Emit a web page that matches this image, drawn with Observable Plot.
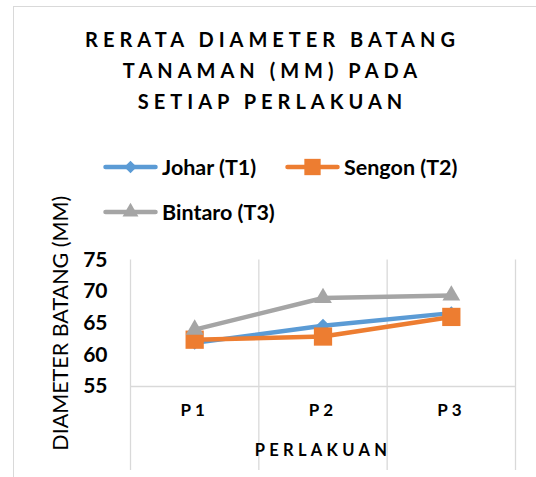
<!DOCTYPE html>
<html><head><meta charset="utf-8">
<script src="https://cdn.jsdelivr.net/npm/d3@7"></script>
<script src="https://cdn.jsdelivr.net/npm/@observablehq/plot@0.6"></script>
<style>
body{margin:0;background:#fff;}
#wrap{position:relative;width:536px;height:477px;overflow:hidden;font-family:Lato,sans-serif;color:#000;}
#frame{position:absolute;left:13px;top:6px;width:600px;height:600px;border:1px solid #d9d9d9;}
#title{position:absolute;left:11px;width:523px;top:24px;text-align:center;font-weight:700;font-size:20px;letter-spacing:5px;line-height:31px;}
.leg{position:absolute;display:flex;align-items:center;font-weight:700;font-size:21.5px;white-space:nowrap;}
.leg svg{margin-right:4px;}
#chart{position:absolute;left:0;top:0;}
</style></head>
<body>
<div id="wrap">
  <div id="frame"></div>
  <div id="title">RERATA DIAMETER BATANG<br>TANAMAN (MM) PADA<br>SETIAP PERLAKUAN</div>
  <div id="chart"></div>
</div>
<script>
const categories = ["P1", "P2", "P3"];
const seriesNames = ["Johar (T1)", "Sengon (T2)", "Bintaro (T3)"];
const johar = [61.9, 64.6, 66.6];
const sengon = [62.4, 62.9, 66.0];
const bintaro = [64.0, 69.0, 69.4];
const seriesColors = ["#5B9BD5", "#ED7D31", "#A5A5A5"];
const seriesSymbols = ["diamond2", "square", "triangle"];
const seriesR = [6.3, 10.3, 6.6];
const yTicks = [55, 60, 65, 70, 75];
const yTitle = "DIAMETER BATANG (MM)";
const xTitle = "PERLAKUAN";

const seriesValues = [johar, sengon, bintaro];
const rowsOf = (si) => seriesValues[si].map((v, i) => ({series: seriesNames[si], cat: categories[i], xi: i + 0.5, value: v}));

const seriesMarks = seriesNames.flatMap((name, si) => [
  Plot.line(rowsOf(si), {x: "xi", y: "value", stroke: seriesColors[si], strokeWidth: 4.5, strokeLinecap: "round", strokeLinejoin: "round"}),
  Plot.dot(rowsOf(si), {x: "xi", y: "value", symbol: seriesSymbols[si], r: seriesR[si], fill: seriesColors[si], stroke: "none"})
]);

const chart = Plot.plot({
  width: 536,
  height: 477,
  marginTop: 259.5,
  marginBottom: 91,
  marginLeft: 130,
  marginRight: 21,
  style: {background: "transparent", fontFamily: "Lato, sans-serif", overflow: "visible"},
  x: {domain: [0, categories.length], axis: null},
  y: {domain: [55, 75], axis: null},
  marks: [
    Plot.ruleX(d3.range(categories.length + 1), {x: d => d, stroke: "#d9d9d9", strokeWidth: 1.3, insetBottom: -84}),
    Plot.ruleY([55], {stroke: "#d9d9d9", strokeWidth: 1.3}),
    ...seriesMarks,
    Plot.text(yTicks, {y: d => d, text: d => String(d), frameAnchor: "left", dx: -23, textAnchor: "end", fontSize: 21, fontWeight: 700, fill: "#000"}),
    Plot.text(categories, {x: (d, i) => i + 0.5, text: d => d, frameAnchor: "bottom", dy: 29, fontSize: 17, fontWeight: 700, fill: "#000"}),
    Plot.text([xTitle], {text: d => d, frameAnchor: "bottom", dy: 69, fontSize: 16.5, fontWeight: 700, fill: "#000"}),
    Plot.text([yTitle], {text: d => d, frameAnchor: "left", textAnchor: "middle", dx: -69.5, rotate: -90, fontSize: 21.5, fontWeight: 400, fill: "#000"})
  ]
});
document.getElementById("chart").appendChild(chart);

// letter spacing of the category labels and x title (as in the reference)
d3.select(chart).selectAll("text")
  .filter(function () { return categories.includes(this.textContent); })
  .style("letter-spacing", "4px");
d3.select(chart).selectAll("text")
  .filter(function () { return this.textContent === xTitle; })
  .style("letter-spacing", "4.3px");

// legend
const legendPos = [[103, 167], [285, 167], [103, 212]];
const wrap = document.getElementById("wrap");
seriesNames.forEach((name, si) => {
  const item = document.createElement("div");
  item.className = "leg";
  item.style.left = legendPos[si][0] + "px";
  item.style.top = (legendPos[si][1] - 14) + "px";
  item.style.height = "28px";
  const sym = {diamond2: d3.symbolDiamond2, square: d3.symbolSquare, triangle: d3.symbolTriangle}[seriesSymbols[si]];
  const path = d3.symbol(sym, Math.PI * seriesR[si] * seriesR[si] * 0.8)();
  item.innerHTML = `<svg width="55" height="28"><line x1="2.5" x2="52.5" y1="14" y2="14" stroke="${seriesColors[si]}" stroke-width="4.5" stroke-linecap="round"/><path d="${path}" transform="translate(27.5,14)" fill="${seriesColors[si]}"/></svg><span>${name}</span>`;
  wrap.appendChild(item);
});
</script>
</body></html>
